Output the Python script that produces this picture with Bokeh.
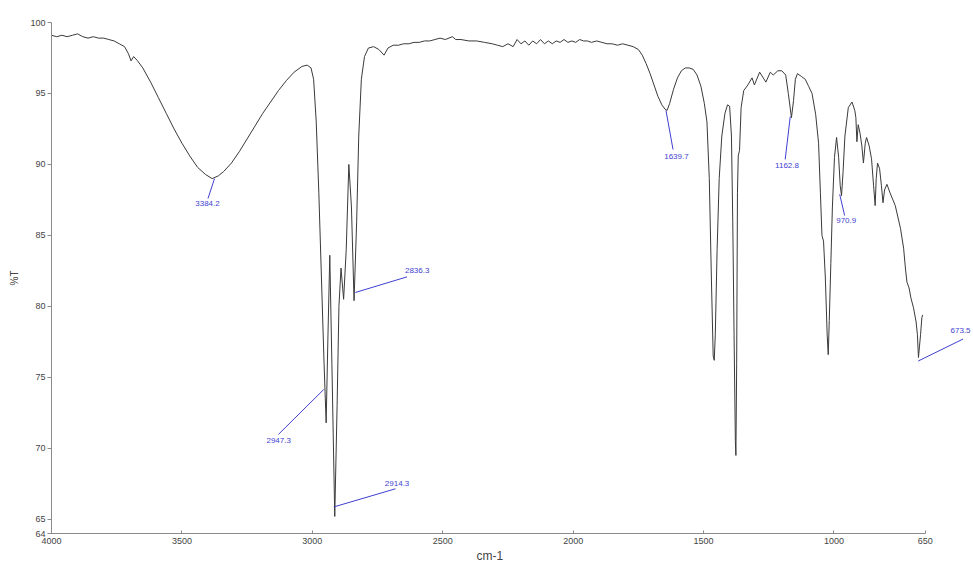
from bokeh.plotting import figure
from bokeh.models import Range1d, FixedTicker, Label, Arrow, Title
from bokeh.embed import file_html
from bokeh.resources import INLINE

# ---- spectrum (wavenumber cm-1, %T) ----
wavenumber = [
    4000, 3980, 3960, 3940, 3920, 3900, 3880, 3860, 3840, 3820, 3800, 3780, 3760, 3740,
    3720, 3705, 3695, 3685, 3670, 3650, 3620, 3590, 3560, 3530, 3500, 3470, 3440, 3410,
    3384, 3360, 3340, 3310, 3280, 3250, 3220, 3190, 3160, 3130, 3100, 3070, 3040, 3020,
    3005, 2995, 2985, 2975, 2965, 2955, 2947, 2940, 2933, 2925, 2914, 2905, 2898, 2890,
    2880, 2870, 2860, 2850, 2840, 2830, 2822, 2812, 2800, 2785, 2765, 2745, 2725, 2710,
    2690, 2670, 2650, 2630, 2610, 2590, 2570, 2550, 2530, 2510, 2490, 2463, 2450, 2430,
    2400, 2370, 2340, 2310, 2290, 2270, 2250, 2230, 2215, 2200, 2185, 2170, 2155, 2140,
    2125, 2110, 2095, 2080, 2065, 2050, 2035, 2020, 2005, 1990, 1975, 1960, 1945, 1930,
    1910, 1890, 1870, 1850, 1830, 1810, 1790, 1770, 1750, 1735, 1720, 1705, 1690, 1675,
    1660, 1648, 1640, 1630, 1615, 1600, 1585, 1570, 1555, 1540, 1525, 1510, 1497, 1487,
    1478, 1470, 1463, 1459, 1455, 1448, 1440, 1430, 1418, 1408, 1400, 1393, 1388, 1383,
    1378, 1376, 1373, 1370, 1367, 1362, 1356, 1346, 1330, 1314, 1305, 1285, 1261, 1244,
    1233, 1215, 1200, 1185, 1175, 1163, 1155, 1148, 1140, 1125, 1110, 1097, 1084, 1070,
    1059, 1052, 1046, 1040, 1033, 1026, 1022, 1018, 1012, 1006, 998, 990, 982, 976,
    971, 965, 958, 945, 931, 920, 916, 912, 907, 900, 893, 887, 880, 875,
    865, 856, 848, 842, 838, 833, 825, 818, 812, 806, 797, 785, 765, 745,
    733, 725, 720, 712, 705, 695, 685, 680, 676, 672, 668, 663, 660,
]
transmittance = [
    99.1, 99.0, 99.1, 99.0, 99.1, 99.2, 99.0, 98.9, 99.0, 98.9, 98.9, 98.8, 98.7, 98.5,
    98.3, 97.8, 97.3, 97.6, 97.3, 96.8, 95.8, 94.7, 93.6, 92.5, 91.5, 90.6, 89.8, 89.3,
    89.0, 89.2, 89.5, 90.1, 90.9, 91.8, 92.7, 93.6, 94.4, 95.2, 95.9, 96.5, 96.9, 97.0,
    96.8, 96.0, 93.0, 88.0, 82.0, 76.0, 71.8, 78.0, 83.6, 76.0, 65.2, 73.0, 80.0, 82.7,
    80.5, 84.0, 90.0, 87.0, 80.4, 86.0, 92.0, 96.0, 97.6, 98.2, 98.3, 98.1, 97.7, 98.2,
    98.4, 98.4, 98.5, 98.5, 98.6, 98.6, 98.7, 98.7, 98.8, 98.9, 98.8, 99.0, 98.8, 98.8,
    98.7, 98.7, 98.6, 98.5, 98.4, 98.3, 98.5, 98.3, 98.8, 98.5, 98.7, 98.4, 98.7, 98.5,
    98.8, 98.5, 98.7, 98.5, 98.7, 98.6, 98.8, 98.6, 98.7, 98.6, 98.8, 98.7, 98.7, 98.6,
    98.7, 98.6, 98.5, 98.5, 98.4, 98.5, 98.4, 98.3, 98.1, 97.7, 97.1, 96.4, 95.6, 94.8,
    94.2, 93.9, 93.8, 94.3, 95.3, 96.1, 96.6, 96.8, 96.8, 96.7, 96.3, 95.5, 94.3, 93.0,
    89.0, 82.0, 76.5, 76.2, 78.0, 84.0, 89.0, 92.0, 93.6, 94.2, 94.1, 92.0, 86.0, 78.0,
    70.5, 69.5, 76.0, 88.0, 90.6, 91.0, 94.0, 95.2, 95.6, 96.1, 95.6, 96.5, 95.8, 96.5,
    96.3, 96.6, 96.6, 96.3, 95.0, 93.3, 94.5, 96.0, 96.4, 96.2, 96.0, 95.5, 95.0, 93.5,
    91.5, 88.0, 85.0, 84.6, 82.0, 78.0, 76.6, 79.0, 83.0, 87.0, 90.5, 91.9, 90.5, 88.5,
    87.8, 89.5, 92.0, 94.0, 94.4, 93.8, 93.3, 91.6, 92.8, 92.2, 91.3, 90.1, 91.5, 91.9,
    91.3, 90.4, 88.5, 87.1, 89.0, 90.1, 89.7, 88.5, 87.3, 88.2, 88.6, 88.0, 87.1, 85.5,
    84.1, 82.5, 81.7, 81.3, 80.6, 79.9, 78.9, 78.0, 76.4, 77.2, 78.0, 79.2, 79.4,
]

x_ticks = [4000, 3500, 3000, 2500, 2000, 1500, 1000, 650]
y_ticks = [64, 65, 70, 75, 80, 85, 90, 95, 100]
x_axis_span = (650, 4000)

# ---- peak annotations ----
peak_labels = ["3384.2", "2947.3", "2914.3", "2836.3", "1639.7", "1162.8", "970.9", "673.5"]
peak_text_x = [3402, 3129, 2675, 2598, 1604, 1180, 953, 553]
peak_text_y = [87.25, 70.54, 67.5, 82.54, 90.54, 89.93, 86.03, 78.3]
peak_text_align = ["center", "center", "center", "center", "center", "center", "center", "left"]
leader_x0 = [3375, 2956, 2918, 2835, 1644, 1167.5, 978, 677]
leader_y0 = [89.0, 74.15, 65.87, 80.98, 93.8, 93.38, 87.9, 76.15]
leader_x1 = [3400, 3130, 2681, 2637, 1617, 1187, 959, 505]
leader_y1 = [87.6, 70.98, 67.15, 82.08, 91.05, 90.35, 86.4, 77.7]

FONT = "Liberation Sans"
BLUE = "#3f3fd0"

# frame extends to the right canvas edge so the last annotation is not clipped;
# the x axis itself is bounded to 4000..650
p = figure(
    width=973, height=562,
    x_range=Range1d(4000, 465), y_range=Range1d(64, 100),
    output_backend="svg", toolbar_location=None,
    min_border_left=51, min_border_right=0, min_border_top=22, min_border_bottom=20,
)
p.background_fill_color = "white"
p.border_fill_color = "white"
p.outline_line_color = None
p.xgrid.visible = False
p.ygrid.visible = False

p.line(wavenumber, transmittance, line_color="#3a3a3a", line_width=1)

for ax in (p.xaxis, p.yaxis):
    ax.axis_line_color = "#8a8a8a"
    ax.major_tick_line_color = "#8a8a8a"
    ax.minor_tick_line_color = None
    ax.major_label_text_font = FONT
    ax.major_label_text_font_size = "9px"
    ax.major_label_text_color = "#444444"
    ax.axis_label_text_font = FONT
    ax.axis_label_text_font_style = "normal"
    ax.axis_label_text_color = "#444444"

p.xaxis.bounds = x_axis_span
p.xaxis.ticker = FixedTicker(ticks=x_ticks)
p.yaxis.ticker = FixedTicker(ticks=y_ticks)
p.xaxis.major_tick_in = 3
p.xaxis.major_tick_out = 0
p.xaxis.major_label_standoff = 4
p.yaxis.major_tick_in = 0
p.yaxis.major_tick_out = 4
p.yaxis.major_label_standoff = 2
p.yaxis.axis_label = "%T"
p.yaxis.axis_label_text_font_size = "10px"
p.yaxis.axis_label_standoff = 7

# x-axis title placed under the centre of the bounded axis (4000..650)
p.add_layout(Title(text="cm-1", align="left", offset=425, standoff=0,
                   text_font=FONT, text_font_size="12px", text_font_style="normal",
                   text_color="#444444"), "below")

for i, txt in enumerate(peak_labels):
    p.add_layout(Arrow(end=None, x_start=leader_x0[i], y_start=leader_y0[i],
                       x_end=leader_x1[i], y_end=leader_y1[i],
                       line_color=BLUE, line_width=1))
    p.add_layout(Label(x=peak_text_x[i], y=peak_text_y[i], text=txt,
                       text_font=FONT, text_font_size="8px", text_color=BLUE,
                       text_align=peak_text_align[i], text_baseline="middle"))

open("out.html", "w").write(file_html(p, INLINE))
